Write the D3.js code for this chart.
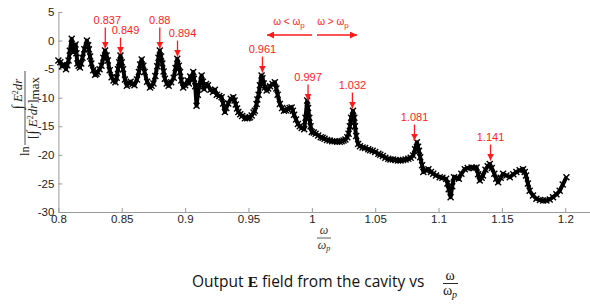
<!DOCTYPE html>
<html>
<head>
<meta charset="utf-8">
<script src="https://cdnjs.cloudflare.com/ajax/libs/d3/7.8.5/d3.min.js"></script>
<style>
  body { margin: 0; background: #fff; }
  svg { display: block; }
</style>
</head>
<body>
<svg id="chart" width="590" height="307"></svg>
<script>

// normalised frequency w/wp and ln of normalised field energy
var freq = [
  0.800, 0.8015, 0.803, 0.8045, 0.806, 0.807, 0.808, 0.809, 0.8105, 0.8115,
  0.812, 0.8128, 0.8135, 0.8142, 0.815, 0.816, 0.817, 0.818, 0.819, 0.8205,
  0.8225, 0.8235, 0.824, 0.825, 0.826, 0.8275, 0.829, 0.830, 0.831, 0.8325,
  0.834, 0.8355, 0.8368, 0.838, 0.839, 0.8405, 0.842, 0.8435, 0.845, 0.846,
  0.847, 0.848, 0.849, 0.850, 0.851, 0.8525, 0.854, 0.8555, 0.857, 0.8585,
  0.860, 0.862, 0.8635, 0.8645, 0.8657, 0.867, 0.868, 0.870, 0.8723, 0.8735,
  0.875, 0.8765, 0.878, 0.879, 0.880, 0.881, 0.882, 0.883, 0.884, 0.8855,
  0.887, 0.889, 0.891, 0.8925, 0.8938, 0.895, 0.896, 0.897, 0.8985, 0.900,
  0.902, 0.903, 0.904, 0.9052, 0.9064, 0.907, 0.908, 0.909, 0.910, 0.911,
  0.913, 0.914, 0.915, 0.9165, 0.918, 0.920, 0.922, 0.9235, 0.925, 0.927,
  0.9288, 0.930, 0.9314, 0.9325, 0.934, 0.936, 0.938, 0.939, 0.940, 0.941,
  0.942, 0.9435, 0.945, 0.9472, 0.949, 0.950, 0.9512, 0.9525, 0.954, 0.955,
  0.9564, 0.957, 0.958, 0.959, 0.9603, 0.961, 0.962, 0.963, 0.9643, 0.9655,
  0.967, 0.969, 0.9708, 0.972, 0.973, 0.9748, 0.9765, 0.978, 0.9795, 0.981,
  0.9825, 0.984, 0.985, 0.986, 0.9875, 0.989, 0.9905, 0.992, 0.994, 0.995,
  0.9963, 0.997, 0.998, 0.999, 1.000, 1.0015, 1.003, 1.005, 1.007, 1.0085,
  1.010, 1.012, 1.014, 1.016, 1.018, 1.020, 1.022, 1.0235, 1.025, 1.0265,
  1.028, 1.029, 1.030, 1.031, 1.0325, 1.0335, 1.034, 1.035, 1.0365, 1.038,
  1.040, 1.042, 1.0445, 1.046, 1.048, 1.050, 1.0525, 1.054, 1.056, 1.058,
  1.0603, 1.062, 1.064, 1.066, 1.068, 1.070, 1.072, 1.074, 1.0761, 1.078,
  1.080, 1.0815, 1.0829, 1.0838, 1.0845, 1.0855, 1.087, 1.088, 1.090, 1.092,
  1.094, 1.0958, 1.098, 1.1009, 1.103, 1.106, 1.107, 1.108, 1.1095, 1.1108,
  1.1122, 1.114, 1.116, 1.118, 1.1207, 1.123, 1.126, 1.128, 1.130, 1.1312,
  1.1325, 1.134, 1.135, 1.137, 1.1388, 1.1404, 1.142, 1.144, 1.1455, 1.147,
  1.149, 1.1509, 1.1535, 1.1562, 1.159, 1.1614, 1.164, 1.1667, 1.168, 1.169,
  1.1705, 1.1719, 1.1745, 1.1772, 1.180, 1.1825, 1.1851, 1.1877, 1.1903, 1.193,
  1.1956, 1.198, 1.2009
];
var field = [
  -3.5, -3.8, -4.5, -4.2, -5.0, -4.3, -3.5, -1.8, 0.3, -1.2,
  -2.0, -1.0, -0.7, -2.2, -4.0, -4.4, -4.7, -4.0, -3.0, -1.5,
  0.0, -0.8, -1.5, -2.8, -4.0, -5.2, -6.0, -5.8, -5.5, -5.0,
  -4.4, -3.0, -1.75, -2.6, -3.5, -5.2, -6.4, -7.0, -7.3, -6.5,
  -5.0, -3.8, -2.6, -3.8, -5.0, -6.8, -7.9, -7.4, -7.2, -7.6,
  -7.8, -6.8, -5.5, -4.2, -3.3, -4.4, -5.5, -7.2, -8.2, -7.9,
  -7.5, -6.2, -4.5, -3.0, -1.75, -2.8, -4.0, -5.4, -6.7, -7.5,
  -7.9, -7.3, -6.5, -4.8, -3.2, -4.4, -5.5, -7.0, -8.2, -7.8,
  -7.0, -7.5, -6.3, -6.8, -5.5, -6.7, -8.0, -11.4, -9.5, -8.0,
  -6.1, -7.2, -8.5, -7.6, -7.8, -8.6, -9.0, -8.6, -9.5, -9.7,
  -9.9, -11.0, -12.5, -11.8, -11.0, -10.2, -9.9, -10.5, -11.2, -11.9,
  -12.5, -12.9, -13.2, -13.6, -13.6, -13.5, -13.4, -13.1, -12.6, -12.3,
  -11.1, -10.3, -9.5, -7.8, -6.1, -6.6, -7.5, -8.2, -8.75, -8.4,
  -8.0, -7.6, -7.3, -8.4, -9.5, -11.1, -11.8, -12.3, -12.2, -12.0,
  -11.8, -11.7, -12.3, -13.0, -13.8, -14.6, -15.0, -15.3, -15.5, -13.5,
  -10.5, -11.8, -13.5, -15.0, -16.0, -16.1, -16.3, -16.6, -16.9, -17.0,
  -17.2, -17.4, -17.5, -17.6, -17.6, -17.7, -17.7, -17.6, -17.5, -17.3,
  -16.9, -16.3, -15.0, -13.5, -12.3, -13.5, -15.0, -16.7, -18.1, -18.5,
  -18.7, -18.8, -19.0, -19.2, -19.3, -19.5, -19.8, -20.0, -20.2, -20.5,
  -20.7, -20.8, -20.8, -20.9, -21.0, -21.0, -20.9, -20.8, -20.7, -20.5,
  -20.1, -19.0, -17.8, -18.6, -19.3, -20.4, -21.8, -23.0, -22.7, -22.5,
  -23.0, -23.3, -23.6, -23.9, -24.0, -24.2, -25.0, -26.0, -27.4, -25.5,
  -23.9, -24.0, -24.2, -23.3, -22.5, -22.3, -22.2, -22.3, -22.2, -23.4,
  -24.5, -24.0, -23.6, -22.6, -22.0, -21.6, -22.3, -23.3, -24.2, -24.8,
  -24.0, -23.3, -23.6, -23.9, -23.4, -23.0, -22.7, -22.5, -23.0, -23.6,
  -25.0, -26.3, -27.1, -27.7, -27.9, -28.0, -28.0, -27.8, -27.4, -26.9,
  -26.3, -25.2, -23.9
];

var xTicks = [0.8, 0.85, 0.9, 0.95, 1, 1.05, 1.1, 1.15, 1.2];
var yTicks = [5, 0, -5, -10, -15, -20, -25, -30];

// resonance peaks marked in red
var peakFreq   = [0.837, 0.849, 0.88, 0.894, 0.961, 0.997, 1.032, 1.081, 1.141];
var peakTip    = [-1.4, -2.3, -1.4, -2.8, -5.6, -10.5, -11.9, -17.5, -21.0];
var peakLabels = ["0.837", "0.849", "0.88", "0.894", "0.961", "0.997", "1.032", "1.081", "1.141"];

var svg = d3.select("#chart");
var red = "#ff1a1a";

var x = d3.scaleLinear().domain([0.8, 1.2195]).range([58.4, 590]);
var y = d3.scaleLinear().domain([-30, 5]).range([212, 12]);

var defs = svg.append("defs");
defs.append("marker")
    .attr("id", "head")
    .attr("viewBox", "0 0 10 10")
    .attr("refX", 10).attr("refY", 5)
    .attr("markerWidth", 7).attr("markerHeight", 7)
    .attr("markerUnits", "userSpaceOnUse")
    .attr("orient", "auto")
  .append("path")
    .attr("d", "M0,0L10,5L0,10Z")
    .attr("fill", red);

/* axes, matlab style ticks pointing inward */
var xAxis = d3.axisBottom(x)
    .tickValues(xTicks)
    .tickSizeInner(-4).tickSizeOuter(0)
    .tickPadding(3)
    .tickFormat(function(d) { return String(d); });

var yAxis = d3.axisLeft(y)
    .tickValues(yTicks)
    .tickSizeInner(-4).tickSizeOuter(0)
    .tickPadding(4)
    .tickFormat(function(d) { return String(d); });

var gx = svg.append("g").attr("transform", "translate(0,212)").call(xAxis);
var gy = svg.append("g").attr("transform", "translate(58.4,0)").call(yAxis);

[gx, gy].forEach(function(g) {
  g.selectAll("path, line").attr("stroke", "#9a9a9a");
  g.selectAll("text")
   .attr("fill", "#222")
   .style("font-family", "Liberation Sans, Arial, sans-serif")
   .style("font-size", "11.5px");
});

/* the curve */
var pts = freq.map(function(f, i) { return [f, field[i]]; });

var line = d3.line()
    .x(function(d) { return x(d[0]); })
    .y(function(d) { return y(d[1]); });

svg.append("path")
   .datum(pts)
   .attr("d", line)
   .attr("fill", "none")
   .attr("stroke", "#000")
   .attr("stroke-width", 4)
   .attr("stroke-linejoin", "round");

svg.selectAll("path.mk")
   .data(pts)
   .enter()
   .append("path")
   .attr("class", "mk")
   .attr("transform", function(d) { return "translate(" + x(d[0]) + "," + y(d[1]) + ")"; })
   .attr("d", "M-3,-3L3,3M-3,3L3,-3")
   .attr("stroke", "#000")
   .attr("stroke-width", 1.4);

/* peak annotations */
var ann = svg.append("g");
peakFreq.forEach(function(f, i) {
  var len = (i == 0 || i == 2) ? 21 : 16;
  var dx = (i == 1 || i == 3) ? 5 : (i == 0 ? 2 : 0);
  var tx = x(f), ty = y(peakTip[i]);
  ann.append("line")
     .attr("x1", tx).attr("y1", ty - len)
     .attr("x2", tx).attr("y2", ty)
     .attr("stroke", red)
     .attr("stroke-width", 1.3)
     .attr("marker-end", "url(#head)");
  ann.append("text")
     .attr("x", tx + dx).attr("y", ty - len - 4)
     .attr("text-anchor", "middle")
     .attr("fill", red)
     .style("font-family", "Liberation Sans, Arial, sans-serif")
     .style("font-size", "11px")
     .text(peakLabels[i]);
});

// w < wp  /  w > wp
function omegaText(cx, sign) {
  var t = ann.append("text")
     .attr("x", cx).attr("y", 25)
     .attr("text-anchor", "middle")
     .attr("fill", red)
     .style("font-family", "Liberation Sans, Arial, sans-serif")
     .style("font-size", "10px");
  t.append("tspan").text("\u03c9 " + sign + " \u03c9");
  t.append("tspan").attr("dy", 3).style("font-size", "8px").text("p");
}
omegaText(289, "<");
omegaText(333, ">");

ann.append("line")
   .attr("x1", 312).attr("y1", 35).attr("x2", 267).attr("y2", 35)
   .attr("stroke", red).attr("stroke-width", 1.3)
   .attr("marker-end", "url(#head)");
ann.append("line")
   .attr("x1", 317).attr("y1", 35).attr("x2", 357).attr("y2", 35)
   .attr("stroke", red).attr("stroke-width", 1.3)
   .attr("marker-end", "url(#head)");

/* y label: ln( int E^2 dr / [int E^2 dr]max ) */
var serif = "Liberation Serif, DejaVu Serif, serif";
var yl = svg.append("g")
    .attr("transform", "translate(25,156) rotate(-90)")
    .attr("fill", "#222")
    .style("font-family", serif);

yl.append("text").attr("x", 0).attr("y", 4).style("font-size", "12.5px").text("ln");
yl.append("line")
  .attr("x1", 11).attr("x2", 85).attr("y1", 0).attr("y2", 0)
  .attr("stroke", "#222").attr("stroke-width", 0.8);

var num = yl.append("text").attr("x", 62).attr("y", -3)
    .attr("text-anchor", "middle").style("font-size", "13px");
num.append("tspan").style("font-size", "15px").text("\u222b");
num.append("tspan").style("font-style", "italic").text(" E");
num.append("tspan").attr("dy", -4).style("font-size", "8px").text("2");
num.append("tspan").attr("dy", 4).style("font-style", "italic").text("dr");

var den = yl.append("text").attr("x", 48).attr("y", 12)
    .attr("text-anchor", "middle").style("font-size", "13px");
den.append("tspan").text("[");
den.append("tspan").style("font-size", "15px").text("\u222b");
den.append("tspan").style("font-style", "italic").text(" E");
den.append("tspan").attr("dy", -4).style("font-size", "8px").text("2");
den.append("tspan").attr("dy", 4).style("font-style", "italic").text("dr");
den.append("tspan").text("]");
den.append("tspan").attr("dy", 2).text("max");

/* x label: w / wp */
var xl = svg.append("g").attr("fill", "#333").style("font-family", serif)
    .style("font-style", "italic");
xl.append("text").attr("x", 324).attr("y", 234).attr("text-anchor", "middle")
  .style("font-size", "12px").text("\u03c9");
xl.append("line").attr("x1", 317).attr("x2", 331).attr("y1", 238).attr("y2", 238)
  .attr("stroke", "#333").attr("stroke-width", 0.8);
var wp = xl.append("text").attr("x", 324).attr("y", 249).attr("text-anchor", "middle")
  .style("font-size", "12px");
wp.append("tspan").text("\u03c9");
wp.append("tspan").attr("dy", 2).style("font-size", "8px").text("p");

/* caption */
var cap = svg.append("text")
    .attr("x", 192).attr("y", 287)
    .attr("fill", "#111")
    .style("font-family", "Open Sans, Noto Sans, sans-serif")
    .style("font-size", "15.5px");
cap.append("tspan").text("Output ");
cap.append("tspan").style("font-family", serif).style("font-weight", "bold").text("E");
cap.append("tspan").text(" field from the cavity vs");

svg.append("text").attr("x", 450).attr("y", 280).attr("text-anchor", "middle")
   .attr("fill", "#111").style("font-family", serif).style("font-size", "14px").text("\u03c9");
svg.append("line").attr("x1", 443).attr("x2", 458).attr("y1", 283.5).attr("y2", 283.5)
   .attr("stroke", "#111").attr("stroke-width", 0.9);
var cwp = svg.append("text").attr("x", 450).attr("y", 295).attr("text-anchor", "middle")
   .attr("fill", "#111").style("font-family", serif).style("font-size", "14px");
cwp.append("tspan").text("\u03c9");
cwp.append("tspan").attr("dy", 3).style("font-size", "10px").style("font-style", "italic").text("p");

</script>
</body>
</html>
